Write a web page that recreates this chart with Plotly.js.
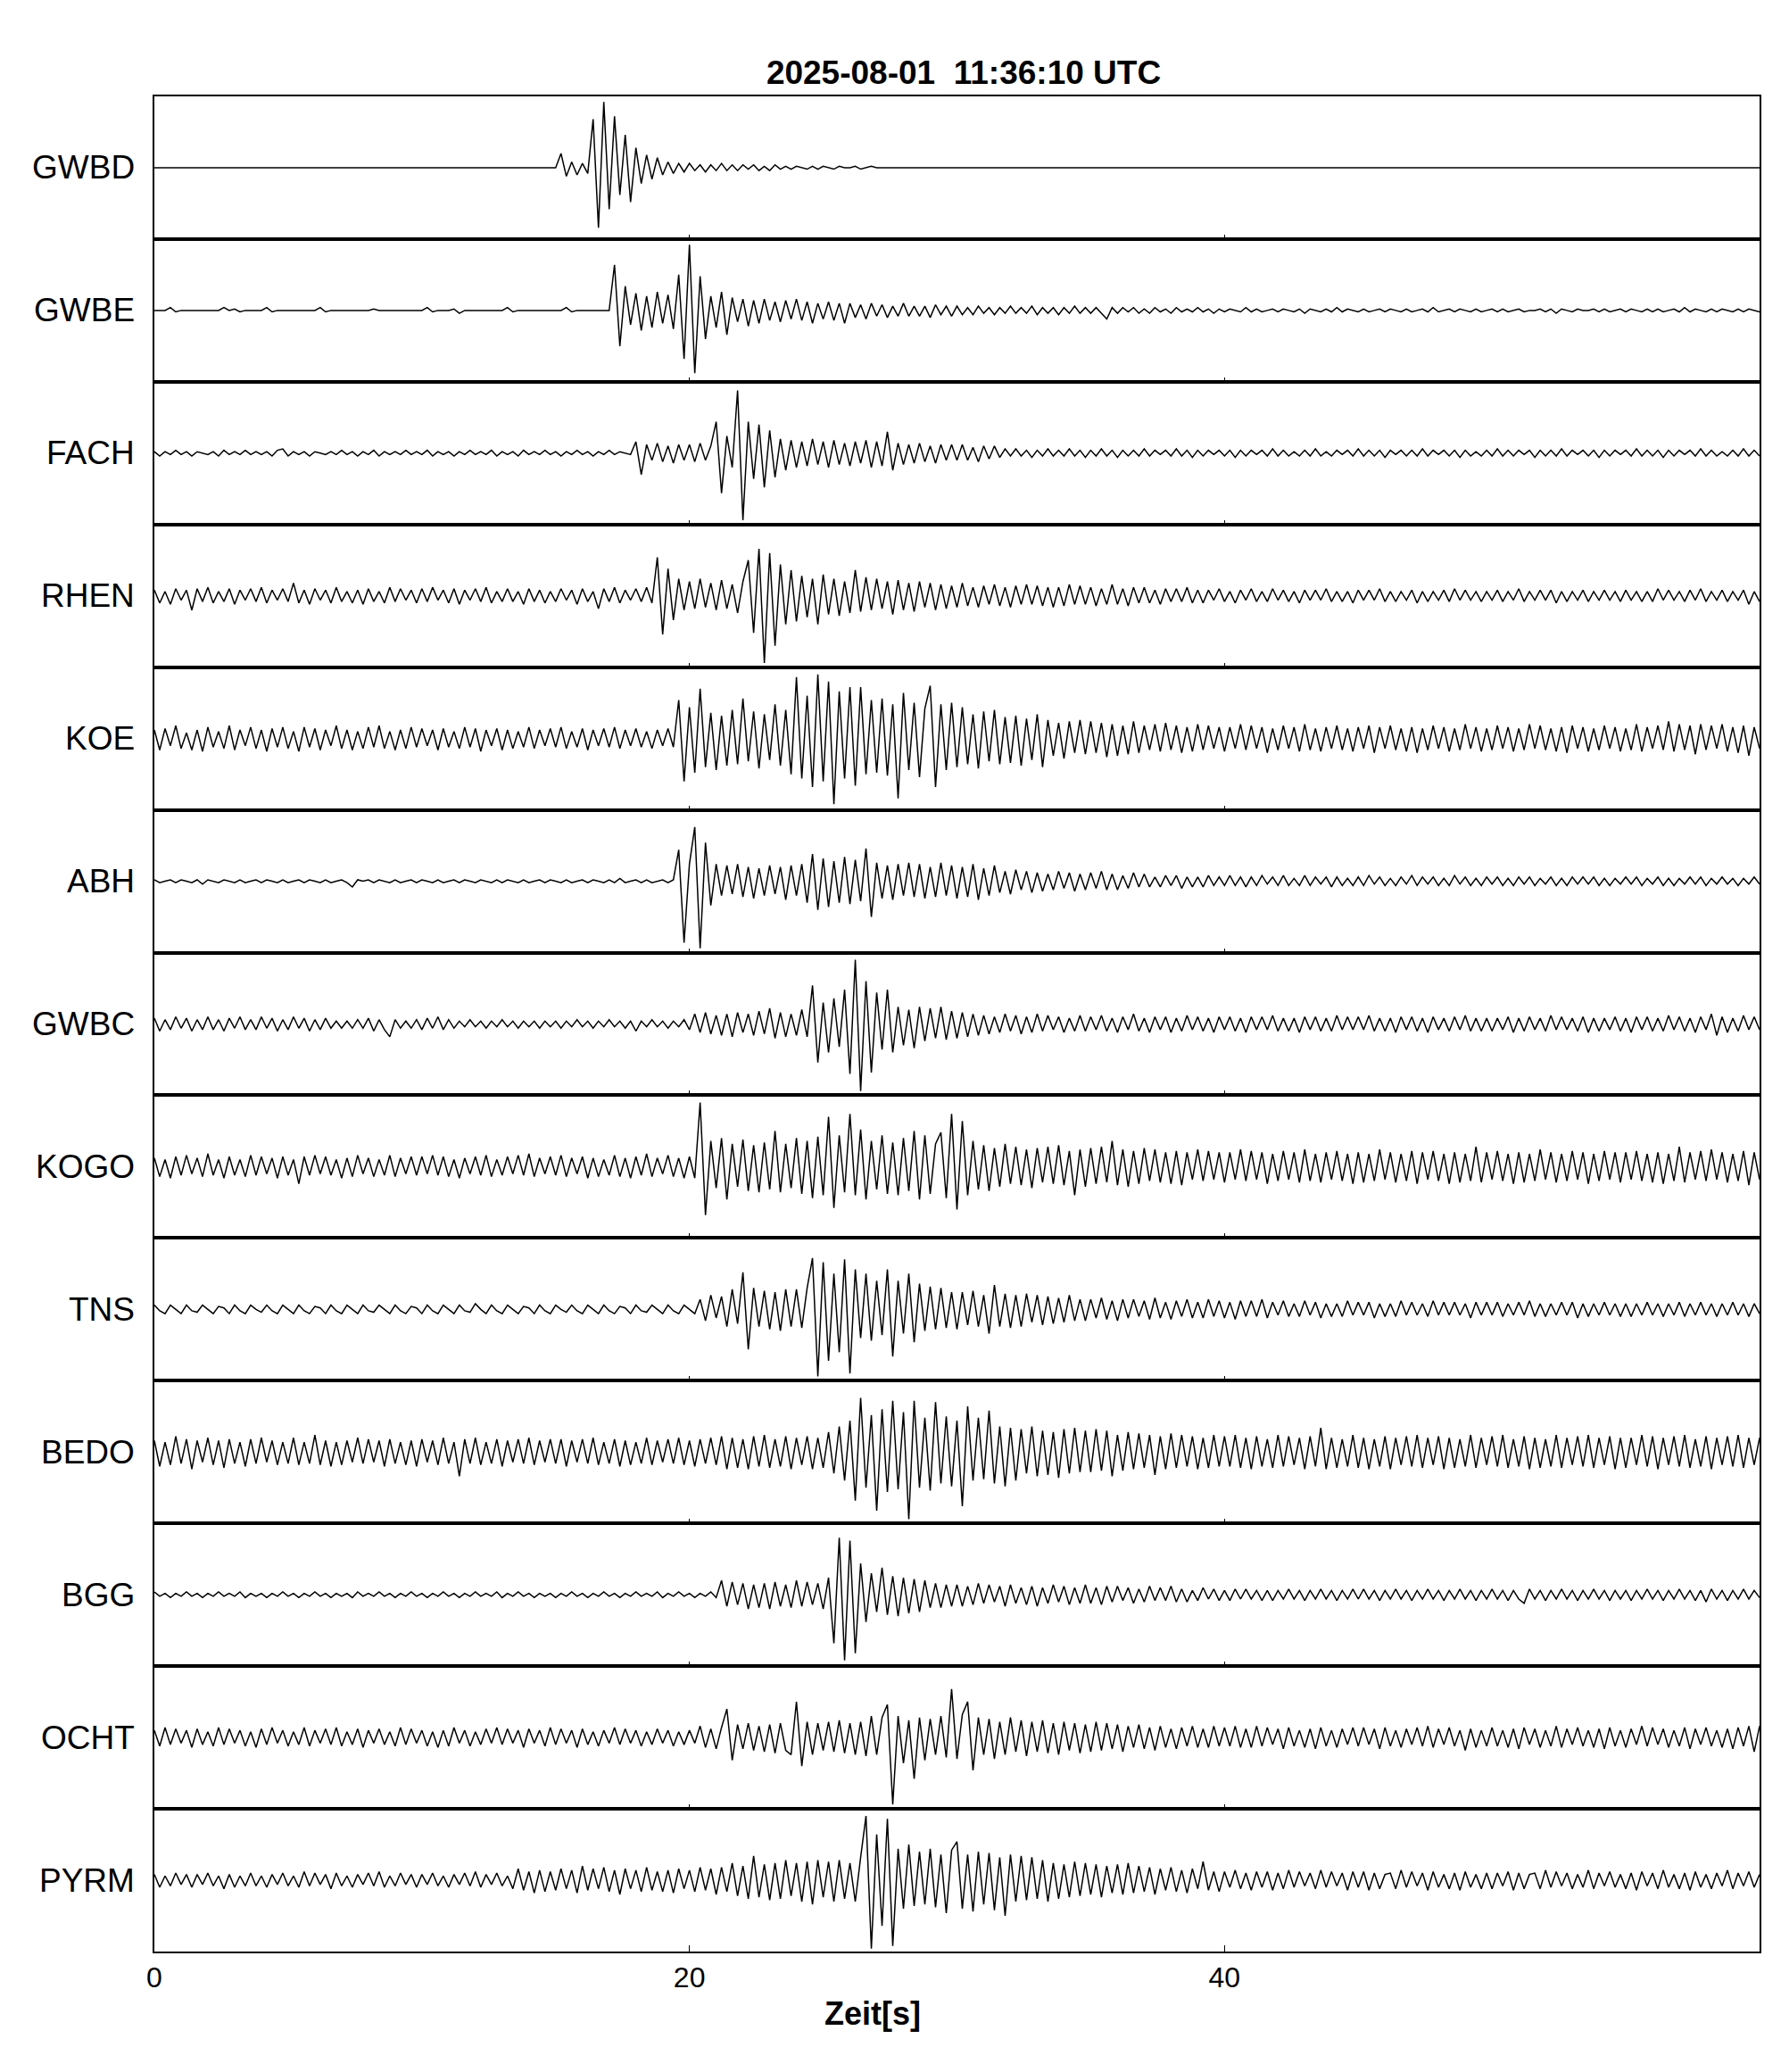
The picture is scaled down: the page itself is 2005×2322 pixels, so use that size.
<!DOCTYPE html>
<html>
<head>
<meta charset="utf-8">
<script src="https://cdn.plot.ly/plotly-3.0.1.min.js"></script>
<style>html,body{margin:0;padding:0;background:#fff;}#chart{width:2005px;height:2322px;}</style>
</head>
<body>
<div id="chart"></div>
<script>
// Station names, top to bottom
const stations = ['GWBD','GWBE','FACH','RHEN','KOE','ABH','GWBC','KOGO','TNS','BEDO','BGG','OCHT','PYRM'];
// Sample interval in seconds
const dt = 0.2;
const xTickVals = [0, 20, 40];
const xTickText = ['0', '20', '40'];
const titleText = '2025-08-01 \u00a011:36:10 UTC';
const xTitleText = 'Zeit[s]';

// Normalised amplitudes (panel range -50..50), one sample every 0.2 s (0..60 s)
const GWBD = [
0,0,0,0,0,0,0,0,0,0,0,0,0,0,0,0,0,0,0,0,0,0,0,0,0,
0,0,0,0,0,0,0,0,0,0,0,0,0,0,0,0,0,0,0,0,0,0,0,0,0,
0,0,0,0,0,0,0,0,0,0,0,0,0,0,0,0,0,0,0,0,0,0,0,0,0,
0,10,-6,4,-5,3,-4,34,-42,46,-29,36,-19,23,-24,14,-11,9,-8,7,-5,4,-4,3,-3,
3,-2,2,-3,2,-2,3,-2,2,-2,2,-1,2,-2,1,-2,2,-1,1,-1,1,0,-1,1,-1,
1,0,-1,1,0,0,1,-1,0,1,0,0,0,0,0,0,0,0,0,0,0,0,0,0,0,
0,0,0,0,0,0,0,0,0,0,0,0,0,0,0,0,0,0,0,0,0,0,0,0,0,
0,0,0,0,0,0,0,0,0,0,0,0,0,0,0,0,0,0,0,0,0,0,0,0,0,
0,0,0,0,0,0,0,0,0,0,0,0,0,0,0,0,0,0,0,0,0,0,0,0,0,
0,0,0,0,0,0,0,0,0,0,0,0,0,0,0,0,0,0,0,0,0,0,0,0,0,
0,0,0,0,0,0,0,0,0,0,0,0,0,0,0,0,0,0,0,0,0,0,0,0,0,
0,0,0,0,0,0,0,0,0,0,0,0,0,0,0,0,0,0,0,0,0,0,0,0,0,0];

const GWBE = [
0,0,0,2,-1,0,0,0,0,0,0,0,0,2,0,1,-1,0,0,0,0,2,-1,0,0,
0,0,0,0,0,0,2,-1,0,0,0,0,0,0,0,0,1,0,0,0,0,0,0,0,0,
0,2,-1,0,0,0,1,-2,0,0,0,0,0,0,0,0,2,-1,0,0,0,0,0,0,0,
0,0,2,-1,0,0,0,0,0,0,0,32,-25,17,-10,12,-14,10,-12,13,-9,11,-13,25,-34,
46,-44,24,-20,10,-12,13,-17,9,-8,8,-11,7,-9,8,-7,6,-8,7,-6,8,-7,6,-9,5,
-6,6,-7,5,-9,5,-5,4,-6,5,-4,4,-5,3,-4,5,-4,3,-4,3,-5,4,-3,3,-4,
3,-3,2,-3,3,-2,2,-3,2,-2,3,-2,2,-2,3,-3,2,-2,2,-3,2,-2,3,-2,2,
-2,2,-2,-6,2,-2,2,-1,2,-2,1,-2,2,-1,1,-2,2,-1,1,-1,2,-1,1,-2,1,
-1,1,0,-1,2,-1,1,-1,0,1,-1,1,0,-1,1,-2,1,0,-1,1,-1,2,-1,1,0,
-1,1,-1,0,1,-1,1,0,-1,1,-1,0,1,-1,2,-1,0,1,-1,1,0,-1,1,-1,0,
1,-1,1,-1,0,1,-1,0,0,1,-1,1,-2,1,0,-1,1,0,0,1,-1,1,-1,0,1,
-1,1,0,-1,1,-1,1,-1,0,1,-1,2,-1,1,0,-1,1,-1,1,0,-1,1,-1,1,0,-1];

const FACH = [
1,-2,1,-1,2,-1,1,-2,1,0,-1,1,-2,2,-1,1,-1,2,-1,1,-1,1,-2,2,3,
-2,1,-1,1,-2,1,0,-1,1,-1,2,-1,1,-2,1,-1,2,-2,1,-1,1,-1,2,-1,1,
-1,2,-2,1,-1,1,-2,1,-1,2,-1,1,-1,2,-2,1,-1,1,-2,2,-1,1,-1,2,-1,
1,-2,1,-1,2,-1,1,-2,1,-1,2,-1,1,0,-1,8,-15,6,-5,7,-6,5,-7,6,-5,
6,-6,7,-5,5,22,-28,12,-10,44,-47,22,-18,20,-24,16,-17,10,-12,9,-10,8,-9,10,-8,
8,-10,9,-8,7,-9,8,-7,9,-10,8,-9,15,-12,7,-8,6,-7,7,-6,5,-7,6,-5,6,
-5,6,-5,4,-6,5,-4,5,-3,3,-2,3,-2,2,-3,2,-2,3,-2,2,-2,3,-2,2,-3,
2,-2,3,-2,2,-3,2,-2,2,-2,3,-2,2,-1,2,-2,3,-2,2,-3,2,-2,2,-1,2,
-2,2,-3,2,-2,2,-1,2,-2,3,-2,2,-2,1,-2,2,-2,3,-2,1,-2,2,-1,2,-2,
3,-2,2,-2,2,-3,2,-1,2,-2,2,-2,3,-2,2,-1,2,-2,2,-3,2,-2,1,-2,2,
-2,3,-2,2,-2,2,-1,2,-3,2,-2,2,-2,3,-2,2,-1,2,-2,2,-3,2,-2,2,-1,
2,-2,3,-2,2,-2,2,-3,2,-2,2,-1,2,-2,3,-2,2,-2,1,-2,2,-2,3,-2,2,-2];

const RHEN = [
4,-5,3,-6,5,-3,4,-10,5,-4,6,-5,3,-4,5,-6,4,-3,5,-4,6,-5,4,-3,5,
-4,9,-5,4,-6,5,-3,4,-5,6,-4,3,-5,4,-6,5,-4,3,-5,6,-4,5,-3,4,-5,
5,-4,6,-3,4,-5,5,-6,4,-3,5,-4,6,-5,3,-4,5,-4,3,-6,5,-4,4,-5,3,
-4,5,-3,4,-6,5,-4,3,-9,5,-4,6,-5,4,-3,5,-4,6,-5,27,-27,19,-17,12,-10,
10,-9,12,-8,9,-10,11,-9,8,-12,10,25,-26,33,-47,30,-35,22,-20,18,-18,14,-15,12,-20,
15,-13,12,-14,10,-12,18,-11,13,-10,12,-9,10,-13,11,-10,9,-11,10,-8,9,-10,8,-9,7,
-8,9,-7,6,-8,7,-6,8,-7,6,-8,7,-6,8,-6,7,-7,6,-8,6,-7,8,-6,7,-6,
6,-7,5,-6,8,-6,5,-7,6,-5,6,-5,4,-6,5,-4,5,-4,6,-5,4,-5,4,-3,5,
-4,3,-5,4,-3,5,-4,3,-4,5,-3,4,-4,3,-5,4,-3,4,-3,5,-4,3,-4,3,-5,
4,-3,4,-3,5,-4,3,-4,3,-3,4,-5,3,-4,3,-3,4,-4,5,-3,4,-3,3,-4,3,
-3,4,-4,3,-3,5,-4,3,-3,4,-3,4,-5,3,-4,3,-3,4,-4,3,-3,4,-3,3,-4,
4,-3,3,-4,3,-4,5,-3,4,-3,3,-4,4,-3,5,-4,3,-3,4,-4,3,-3,4,-6,3,-4];

const KOE = [
6,-8,7,-5,9,-7,4,-8,6,-9,8,-6,5,-7,9,-8,6,-5,8,-7,6,-9,7,-6,8,
-7,5,-9,8,-6,7,-8,6,-5,9,-7,6,-8,5,-7,8,-6,9,-7,5,-8,6,-7,8,-6,
7,-5,6,-8,7,-6,5,-7,8,-6,7,-9,6,-5,7,-8,6,-7,5,-6,8,-7,6,-5,7,
-6,8,-7,5,-6,7,-8,6,-5,7,-6,8,-7,6,-5,7,-6,5,-7,6,-5,7,-6,27,-30,
22,-24,35,-20,18,-22,16,-19,20,-18,28,-16,19,-21,17,-15,24,-19,20,-25,43,-28,30,-34,45,
-30,40,-46,33,-28,36,-33,36,-25,27,-24,28,-26,24,-42,32,-22,25,-27,21,37,-34,24,-22,25,
-20,22,-18,17,-21,19,-16,20,-18,15,-17,16,-19,14,-15,17,-20,13,-12,11,-14,12,-10,13,-11,
12,-10,11,-13,10,-12,9,-11,12,-10,9,-8,10,-9,11,-8,9,-10,8,-9,10,-8,9,-7,8,
-9,8,-7,10,-8,9,-7,8,-10,7,-8,9,-7,8,-9,10,-8,7,-9,8,-7,9,-8,7,-9,
8,-7,9,-10,8,-7,9,-8,7,-9,8,-10,7,-8,9,-7,8,-9,7,-8,10,-7,8,-9,7,
-8,9,-7,8,-9,7,-8,10,-7,9,-8,7,-9,8,-10,9,-7,8,-9,7,-8,9,-7,8,-9,
7,-8,10,-9,8,-7,9,-8,12,-9,10,-8,9,-11,10,-8,9,-7,10,-9,8,-10,9,-12,8,-7];

const ABH = [
1,-1,0,1,-1,1,0,-1,1,-2,1,0,-1,1,0,-1,1,-1,0,1,-1,1,0,-1,1,
-1,0,1,-1,1,0,-1,1,-1,0,1,-1,-4,1,0,1,-1,1,0,-1,1,-1,0,1,-1,
1,0,-1,1,-1,0,1,-1,1,0,-1,1,0,-1,1,-1,1,0,-1,1,-1,0,1,-1,1,
0,-1,1,-1,0,1,-1,1,0,-1,1,-1,2,-1,0,1,-1,1,-1,0,1,-1,1,22,-43,
12,38,-47,27,-17,12,-10,11,-9,12,-11,10,-12,9,-10,11,-9,10,-13,11,-10,12,-15,19,-20,
16,-18,14,-15,17,-16,15,-14,23,-25,13,-12,11,-13,12,-10,13,-11,12,-12,10,-11,13,-10,11,
-12,10,-11,12,-13,9,-10,11,-8,7,-9,8,-6,7,-8,6,-7,5,-6,7,-5,6,-7,5,-6,
6,-5,7,-6,5,-6,4,-5,6,-4,5,-4,3,-4,4,-3,4,-5,3,-4,3,-4,4,-3,3,
-3,4,-3,3,-4,3,-3,4,-2,3,-3,4,-3,2,-3,4,-3,3,-2,3,-4,3,-3,2,-3,
3,-3,4,-2,3,-3,2,-3,3,-2,4,-3,3,-2,3,-3,2,-3,4,-2,3,-3,2,-3,3,
-2,3,-3,2,-3,3,-2,3,-3,2,-2,3,-3,2,-3,3,-2,3,-2,3,-3,2,-3,2,-2,
3,-2,3,-3,2,-2,3,-3,2,-3,2,-2,3,-2,3,-3,2,-2,3,-2,2,-3,2,-2,3,-2];

const GWBC = [
4,-5,3,-4,5,-3,4,-5,3,-4,5,-4,3,-5,4,-3,5,-4,3,-4,5,-3,4,-5,3,
-4,5,-3,4,-5,3,-4,4,-3,2,-3,2,-3,3,-3,4,-5,3,-4,-9,3,-3,2,-3,3,
-4,4,-3,5,-4,3,-3,2,-2,3,-2,2,-3,2,-2,3,-2,2,-3,2,-2,2,-3,2,-2,
2,-3,2,-2,3,-2,2,-3,2,-2,3,-2,2,-3,2,-5,2,-2,3,-2,2,-3,2,-2,3,
-4,7,-6,8,-7,6,-8,7,-9,8,-6,7,-8,9,-7,11,-10,8,-9,7,-8,10,-9,27,-27,
15,-20,18,-16,24,-35,45,-47,30,-34,22,-18,24,-20,12,-15,10,-17,12,-12,11,-10,12,-11,9,
-10,8,-9,7,-8,6,-7,5,-6,7,-5,6,-7,5,-6,7,-5,6,-4,5,-6,4,-5,6,-5,
5,-4,6,-5,4,-6,5,-4,7,-5,4,-6,5,-4,5,-6,4,-5,6,-4,5,-5,4,-6,5,
-4,5,-5,4,-6,5,-4,5,-4,6,-5,4,-5,4,-6,5,-4,5,-5,4,-5,6,-4,5,-4,
5,-4,6,-5,4,-5,4,-6,5,-4,5,-5,4,-6,5,-4,4,-5,5,-4,6,-5,4,-5,4,
-5,4,-4,5,-6,4,-5,5,-4,4,-5,6,-4,5,-4,4,-5,5,-6,4,-5,4,-4,5,-5,
4,-6,5,-4,5,-5,4,-5,6,-4,5,-5,4,-6,5,-4,7,-8,5,-6,4,-5,6,-4,5,-4];

const KOGO = [
6,-7,5,-8,7,-6,8,-5,6,-7,9,-6,5,-8,7,-6,5,-7,8,-6,7,-5,6,-8,7,
-6,5,-12,7,-6,8,-5,7,-6,5,-8,6,-7,8,-5,6,-7,5,-6,8,-7,6,-5,7,-6,
7,-5,8,-6,7,-7,5,-8,6,-5,7,-6,8,-7,5,-6,7,-5,8,-6,9,-7,6,-5,7,
-6,8,-7,6,-5,7,-8,6,-7,5,-6,8,-7,6,-8,7,-6,9,-7,6,-5,8,-7,6,-8,
7,-8,45,-34,18,-15,20,-23,16,-14,19,-17,15,-18,17,-16,25,-18,16,-15,20,-19,18,-22,21,
-20,35,-29,22,-18,37,-20,26,-23,18,-16,22,-19,17,-20,20,-17,25,-23,22,-19,16,24,-22,37,
-30,32,-20,18,-16,15,-17,13,-14,16,-12,14,-13,12,-15,13,-11,14,-12,15,-13,11,-20,12,-14,
13,-12,14,-11,18,-13,12,-14,11,-12,13,-10,12,-11,10,-12,11,-13,10,-9,12,-10,11,-9,10,
-11,10,-9,12,-10,11,-9,10,-12,9,-10,11,-9,10,-11,12,-10,9,-11,10,-9,11,-10,9,-12,
10,-11,9,-10,12,-9,10,-11,9,-10,11,-12,10,-9,11,-10,9,-12,10,-11,9,-10,14,-11,10,
-9,11,-10,9,-12,10,-11,9,-10,12,-9,10,-11,9,-10,11,-9,10,-12,9,-10,11,-9,10,-11,
10,-9,11,-10,9,-11,10,-12,9,-10,14,-11,10,-9,11,-10,12,-9,10,-11,9,-10,11,-13,10,-9];

const TNS = [
3,-1,-3,3,0,-3,3,-1,-2,3,0,-3,2,1,-3,3,-1,-3,3,0,-2,3,-1,-3,3,
0,-3,3,-1,-3,2,1,-3,3,-1,-3,3,0,-3,3,-1,-2,3,0,-3,3,-1,-3,2,1,
-3,3,-1,-3,3,0,-3,3,-1,-2,4,0,-3,3,-1,-3,3,0,-3,2,1,-3,3,-1,-3,
3,0,-2,3,-1,-3,3,0,-3,3,-1,-3,2,1,-3,3,-1,-2,3,0,-3,3,-1,-3,3,
0,-3,7,-8,10,-6,9,-12,14,-10,26,-28,15,-12,13,-14,12,-15,14,-12,14,-13,15,36,-47,
33,-36,25,-30,35,-45,28,-20,25,-22,20,-18,28,-33,20,-17,25,-23,18,-15,16,-14,15,-13,12,
-14,12,-11,13,-12,10,-17,17,-12,11,-13,10,-12,11,-9,10,-11,9,-10,8,-9,10,-8,7,-8,
7,-6,8,-7,6,-8,7,-6,7,-5,6,-7,8,-6,5,-7,6,-5,7,-6,5,-6,7,-5,6,
-6,5,-7,6,-5,6,-5,7,-6,5,-4,6,-5,4,-5,6,-4,5,-6,4,-5,4,-5,6,-4,
5,-4,5,-6,4,-5,4,-5,6,-4,5,-4,4,-5,6,-4,5,-4,5,-4,4,-6,5,-4,5,
-4,5,-5,4,-4,5,-4,6,-5,4,-5,4,-4,5,-4,5,-6,4,-5,4,-4,5,-4,4,-5,
4,-5,4,-4,5,-4,4,-5,4,-4,5,-5,4,-4,5,-4,4,-5,4,-4,5,-4,4,-5,4,-3];

const BEDO = [
8,-10,7,-9,11,-8,9,-12,8,-7,10,-9,8,-11,9,-8,7,-10,9,-8,10,-7,8,-9,7,
-8,10,-9,7,-8,12,-9,8,-10,7,-9,8,-7,10,-8,9,-7,8,-10,9,-8,7,-9,8,-10,
9,-7,8,-9,10,-8,7,-17,9,-8,10,-9,7,-8,9,-10,8,-7,9,-8,10,-9,8,-7,9,
-8,9,-10,8,-7,9,-8,10,-9,7,-8,9,-10,8,-9,7,-8,10,-9,8,-7,9,-8,10,-9,
8,-10,9,-8,10,-9,11,-12,10,-11,9,-12,11,-10,12,-11,9,-10,11,-12,10,-9,11,-12,10,
-11,14,-15,18,-20,22,-34,38,-25,26,-41,30,-28,36,-26,28,-47,36,-25,24,-27,35,-22,25,-24,
22,-38,32,-20,24,-19,29,-22,18,-24,17,-20,16,-15,18,-17,15,-16,14,-18,16,-15,17,-14,15,
-14,16,-13,15,-17,12,-13,14,-12,13,-11,12,-16,11,-12,13,-11,12,-10,11,-12,10,-11,12,-10,
11,-10,12,-11,10,-12,11,-10,9,-11,12,-10,11,-9,10,-12,11,-10,17,-12,10,-11,9,-10,12,
-11,10,-12,9,-10,11,-12,10,-9,11,-10,12,-11,10,-9,11,-12,10,-11,9,-10,12,-11,10,-9,
11,-10,12,-11,9,-10,11,-12,10,-11,9,-10,12,-11,10,-9,11,-10,12,-11,10,-9,11,-12,10,
-11,10,-9,12,-10,11,-12,10,-9,11,-10,12,-11,9,-10,11,-12,10,-9,11,-10,12,-11,10,-9,10];

const BGG = [
2,-1,1,-2,1,-1,2,-1,1,-2,1,-1,2,-1,1,-1,2,-2,1,-1,1,-2,1,-1,2,
-1,1,-2,1,-1,2,-1,1,-2,1,-1,1,-2,2,-1,1,-1,2,-1,1,-2,1,-1,2,-1,
1,-2,1,-1,2,-1,1,-2,1,-1,2,-1,1,-1,2,-2,1,-1,2,-1,1,-2,1,-1,1,
-2,1,-1,2,-1,1,-2,1,-1,2,-1,1,-2,1,-1,2,-1,1,-1,2,-2,1,-1,2,-1,
1,-2,1,-1,2,-2,10,-8,9,-7,8,-10,7,-9,8,-10,9,-8,7,-9,10,-8,9,-7,8,
-10,12,-34,40,-46,38,-41,22,-19,15,-12,19,-14,13,-15,12,-13,11,-12,10,-9,8,-9,7,-8,
7,-8,6,-7,8,-6,7,-5,6,-8,7,-6,5,-7,6,-8,5,-6,7,-5,6,-7,5,-6,7,
-6,5,-7,6,-5,6,-4,5,-6,4,-5,6,-4,5,-4,6,-5,4,-5,3,-4,5,-3,4,-4,
3,-4,4,-3,4,-3,3,-4,3,-4,3,-3,4,-3,3,-4,3,-3,4,-3,3,-4,3,-3,4,
-3,4,-3,3,-4,3,-3,4,-3,3,-4,3,-3,4,-3,3,-4,3,-3,4,-3,3,-4,3,-3,
4,-3,3,-4,3,-3,-6,4,-3,3,-4,3,-3,4,-3,3,-4,3,-3,4,-3,3,-4,3,-3,
3,-4,3,-3,4,-3,3,-4,3,-3,4,-3,3,-4,3,-5,4,-3,3,-4,3,-3,4,-3,3,-2];

const OCHT = [
5,-6,7,-5,6,-4,5,-7,6,-5,4,-6,7,-5,6,-4,5,-6,4,-7,6,-5,7,-4,5,
-6,4,-5,7,-6,5,-4,6,-5,7,-6,4,-5,6,-7,5,-4,6,-5,4,-6,7,-5,6,-4,
5,-6,4,-7,5,-6,7,-4,5,-6,4,-5,6,-4,7,-5,6,-4,5,-7,6,-4,5,-6,7,
-5,6,-4,5,-7,6,-5,4,-6,5,-4,7,-5,6,-4,5,-6,4,-5,6,-4,5,-6,4,-5,
5,-4,8,-7,6,-8,7,20,-16,9,-8,10,-9,8,-10,9,-11,10,-9,-12,25,-20,11,-12,10,
-9,11,-10,12,-11,10,-12,11,-13,15,-12,14,23,-47,15,-18,12,-29,14,-16,13,-12,15,-14,34,
-15,16,25,-23,14,-12,13,-15,11,-12,14,-10,12,-13,11,-10,12,-11,10,-12,11,-9,10,-11,9,
-10,11,-9,10,-8,9,-10,8,-7,9,-8,7,-9,8,-7,6,-8,7,-6,8,-7,6,-7,8,-6,
7,-6,8,-7,6,-7,8,-6,7,-5,6,-8,7,-6,5,-7,6,-8,7,-6,5,-7,6,-5,7,
-6,7,-5,6,-8,7,-6,5,-7,6,-5,7,-6,8,-7,6,-5,7,-6,5,-9,6,-7,5,-6,
7,-6,5,-7,6,-8,7,-5,6,-7,5,-6,8,-7,6,-5,7,-6,5,-7,6,-8,7,-6,5,
-7,6,-5,8,-6,7,-5,6,-7,5,-6,7,-8,6,-5,7,-6,5,-7,6,-8,7,-6,8,-10,8];

const PYRM = [
4,-5,3,-4,5,-3,4,-5,4,-3,5,-4,3,-6,4,-5,3,-4,5,-4,3,-5,4,-3,5,
-4,3,-5,6,-4,5,-3,4,-6,5,-4,3,-5,4,-3,5,-4,6,-5,3,-4,5,-3,4,-5,
4,-3,5,-4,3,-5,4,-3,5,-4,6,-5,4,-3,5,-4,3,-6,8,-7,6,-9,7,-8,6,
-7,8,-6,7,-9,10,-7,8,-6,9,-8,7,-10,8,-6,7,-8,9,-7,6,-8,7,-9,8,-6,
7,-8,9,-7,8,-10,9,-8,12,-11,10,-13,17,-12,11,-14,12,-13,14,-11,12,-15,13,-17,14,
-12,13,-15,14,-13,12,-15,16,45,-48,32,-32,43,-46,22,-20,25,-18,20,-17,22,-19,18,-23,21,
27,-20,18,-22,20,-17,19,-21,16,-25,18,-15,17,-14,16,-13,14,-15,12,-13,11,-12,13,-11,12,
-10,11,-12,10,-9,11,-10,12,-9,10,-8,9,-10,8,-7,9,-8,7,-9,8,-6,13,-7,6,-8,
6,-5,7,-6,5,-7,6,-5,6,-7,5,-6,7,-5,6,-4,5,-6,7,-5,6,-4,5,-7,6,
-5,6,-7,5,-6,4,5,-6,7,-5,6,-4,5,-7,6,-5,4,-6,5,-7,6,-5,4,-6,5,
-6,5,-4,6,-7,5,-6,4,5,-6,7,-5,6,-4,5,-6,4,-5,7,-6,5,-4,6,-5,4,
-6,5,-7,6,-4,5,-6,7,-5,4,-6,5,-7,6,-5,4,-6,5,-4,7,-6,5,-4,6,-5,4];

const seriesList = [GWBD, GWBE, FACH, RHEN, KOE, ABH, GWBC, KOGO, TNS, BEDO, BGG, OCHT, PYRM];

const FONT = 'Liberation Sans, Arial, Helvetica, sans-serif';
const n = stations.length;
const data = [];
const layout = {
  width: 2005, height: 2322,
  paper_bgcolor: '#ffffff', plot_bgcolor: '#ffffff',
  margin: {l: 173, r: 33, t: 108, b: 135, pad: 0},
  showlegend: false,
  font: {family: FONT, color: '#000000'},
  title: {
    text: '<b>' + titleText + '</b>',
    font: {family: FONT, size: 37, color: '#000000'},
    xref: 'container', x: 1080 / 2005, xanchor: 'center',
    yref: 'container', y: 1 - 81 / 2322, yanchor: 'middle'
  },
  annotations: []
};

for (let k = 0; k < n; k++) {
  const id = k === 0 ? '' : String(k + 1);
  const vals = seriesList[k];
  data.push({
    type: 'scatter', mode: 'lines',
    x: vals.map((v, i) => i * dt), y: vals,
    xaxis: 'x' + id, yaxis: 'y' + id,
    line: {color: '#000000', width: 1.5},
    hoverinfo: 'skip', showlegend: false
  });
  const last = k === n - 1;
  const xa = {
    domain: [0, 1], range: [0, 60], anchor: 'y' + id,
    showline: true, linecolor: '#000000', linewidth: 2, mirror: true,
    ticks: 'inside', ticklen: last ? 7 : 5, tickwidth: 1.5, tickcolor: '#000000',
    tickmode: 'array', tickvals: xTickVals, ticktext: xTickText,
    showticklabels: last,
    tickfont: {family: FONT, size: 32, color: '#000000'},
    showgrid: false, zeroline: false, fixedrange: true
  };
  if (k > 0) xa.matches = 'x';
  layout['xaxis' + id] = xa;
  layout['yaxis' + id] = {
    domain: [1 - (k + 1) / n, 1 - k / n], range: [-50, 50], anchor: 'x' + id,
    showline: true, linecolor: '#000000', linewidth: 2, mirror: true,
    ticks: '', showticklabels: false, showgrid: false, zeroline: false, fixedrange: true
  };
  layout.annotations.push({
    xref: 'paper', yref: 'y' + id, x: 0, y: 0,
    xanchor: 'right', yanchor: 'middle', xshift: -20,
    text: stations[k], showarrow: false,
    font: {family: FONT, size: 37, color: '#000000'}
  });
}

layout.annotations.push({
  xref: 'paper', yref: 'paper', x: (978 - 173) / 1799, y: 0,
  xanchor: 'center', yanchor: 'middle', yshift: -69,
  text: '<b>' + xTitleText + '</b>', showarrow: false,
  font: {family: FONT, size: 36, color: '#000000'}
});

Plotly.newPlot('chart', data, layout, {displayModeBar: false, staticPlot: true});
</script>
</body>
</html>
